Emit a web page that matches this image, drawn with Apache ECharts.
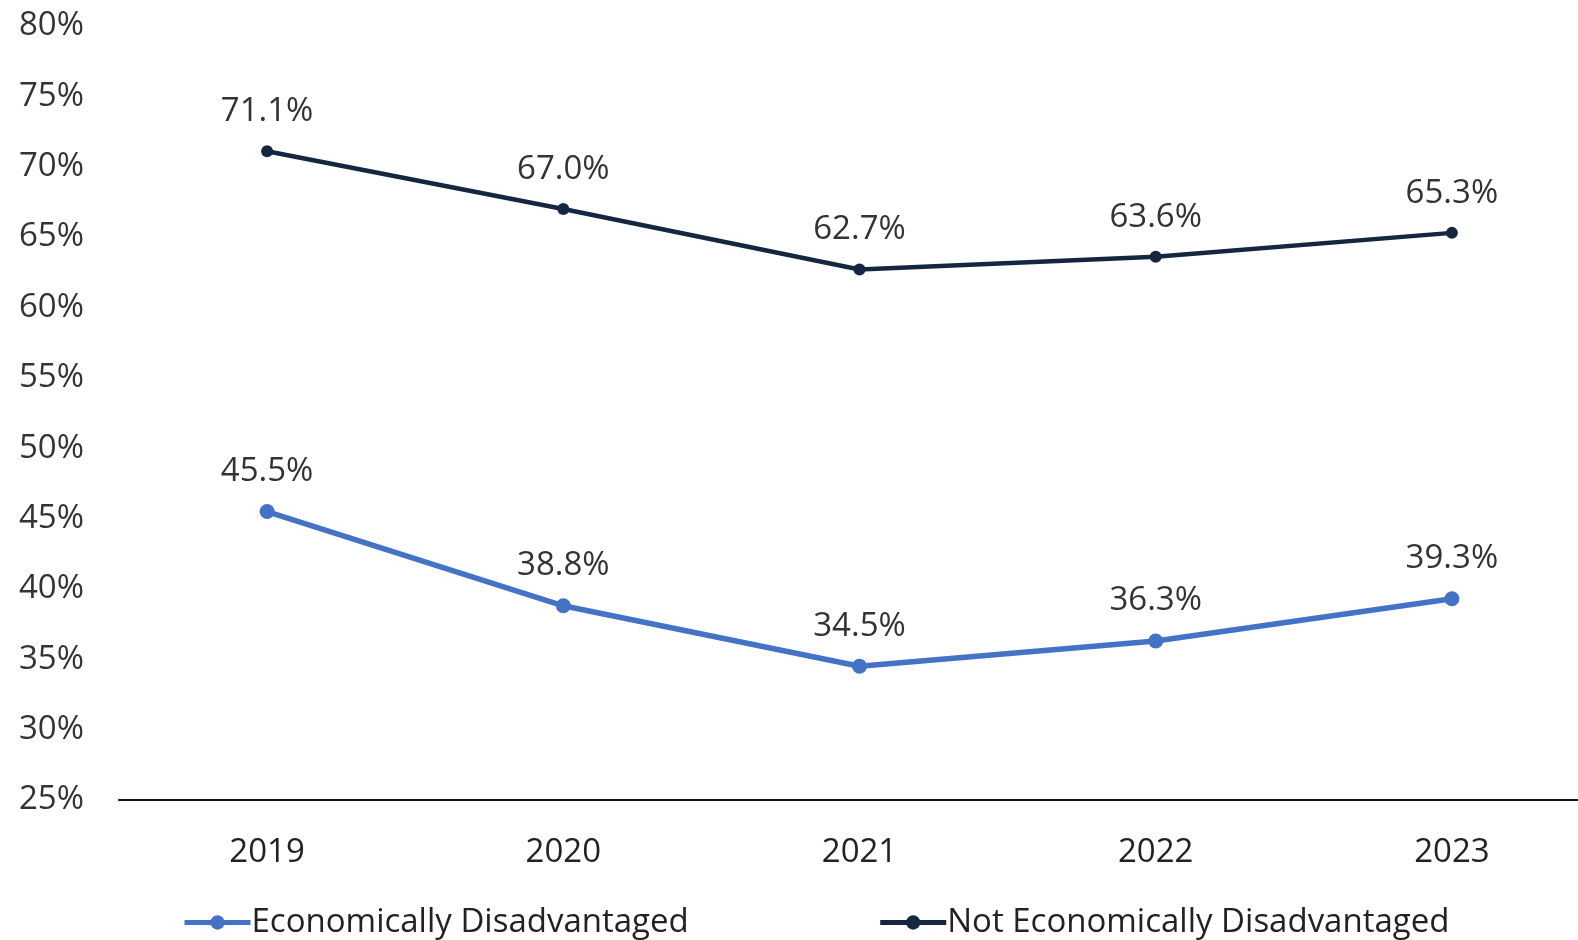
<!DOCTYPE html>
<html>
<head>
<meta charset="utf-8">
<script src="https://cdn.jsdelivr.net/npm/echarts@6/dist/echarts.min.js"></script>
<style>
  html, body { margin: 0; padding: 0; background: #fff; overflow: hidden; }
  #chart { width: 1600px; height: 940px; }
</style>
</head>
<body>
<div id="chart"></div>
<script>
const years = ["2019", "2020", "2021", "2022", "2023"];
const econDisadv = [45.5, 38.8, 34.5, 36.3, 39.3];
const notEconDisadv = [71.1, 67.0, 62.7, 63.6, 65.3];
const seriesNames = ["Economically Disadvantaged", "Not Economically Disadvantaged"];

const font = "'Open Sans', sans-serif";
const chart = echarts.init(document.getElementById("chart"));

// axis runs off the right edge of the page, like the original
chart.setOption({
  animation: false,
  textStyle: { fontFamily: font },
  grid: { left: 119, right: 0, top: 26, bottom: 140 },
  legend: {
    data: seriesNames,
    bottom: -4,
    left: 177,
    itemGap: 189,
    itemWidth: 66,
    itemHeight: 18,
    lineStyle: { width: 5 },
    textStyle: { fontSize: 33, color: "#222", fontFamily: font, padding: [0, 0, 0, -4] }
  },
  xAxis: {
    type: "category",
    data: years,
    boundaryGap: true,
    axisLine: { lineStyle: { color: "#111", width: 2 } },
    axisTick: { show: false },
    axisLabel: { fontSize: 33, color: "#222", margin: 36 }
  },
  yAxis: {
    type: "value",
    min: 25,
    max: 80,
    interval: 5,
    splitLine: { show: false },
    axisLine: { show: false },
    axisTick: { show: false },
    axisLabel: { fontSize: 33, color: "#333", margin: 35, formatter: "{value}%" }
  },
  series: [
    {
      name: seriesNames[0],
      type: "line",
      data: econDisadv,
      symbol: "circle",
      symbolSize: 15,
      itemStyle: { color: "#4472c4" },
      lineStyle: { width: 5.5, color: "#4472c4" },
      label: {
        show: true, position: "top", distance: 16,
        fontSize: 33, color: "#333", formatter: p => p.value.toFixed(1) + "%"
      }
    },
    {
      name: seriesNames[1],
      type: "line",
      data: notEconDisadv,
      symbol: "circle",
      symbolSize: 12,
      itemStyle: { color: "#152740" },
      lineStyle: { width: 4.5, color: "#152740" },
      label: {
        show: true, position: "top", distance: 17,
        fontSize: 33, color: "#333", formatter: p => p.value.toFixed(1) + "%"
      }
    }
  ]
});
</script>
</body>
</html>
